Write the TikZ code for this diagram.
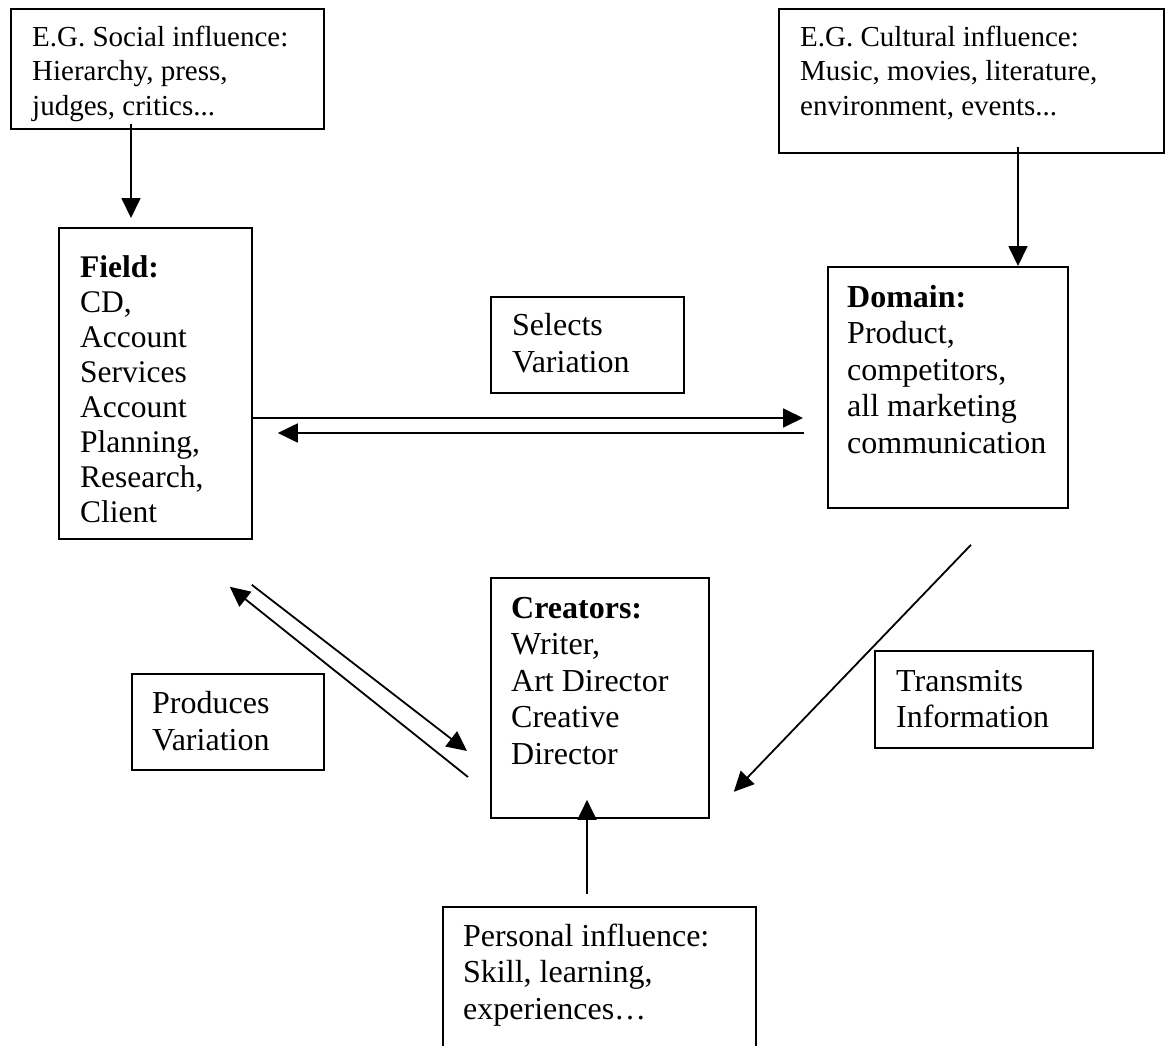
\documentclass[tikz,border=0pt]{standalone}
\usepackage{fontspec}
\setmainfont{Liberation Serif}
\usetikzlibrary{arrows.meta}
\tikzset{
  box/.style={draw, line width=1.8pt, rectangle, inner sep=0pt, anchor=north west},
  txt/.style={anchor=north west, inner sep=0pt, align=left},
  small/.style={font=\fontsize{29}{34.5}\selectfont},
  big/.style={font=\fontsize{32}{36.5}\selectfont},
  arr/.style={line width=1.8pt, -{Triangle[length=20pt,width=19pt]}}
}
\begin{document}
\begin{tikzpicture}[x=1pt,y=-1pt]
\useasboundingbox (0,0) rectangle (1165,1046);
% boxes
\node[box, minimum width=313pt, minimum height=120pt] (social) at (10,8) {};
\node[box, minimum width=385pt, minimum height=144pt] (cultural) at (778,8) {};
\node[box, minimum width=193pt, minimum height=311pt] (field) at (58,227) {};
\node[box, minimum width=240pt, minimum height=241pt] (domain) at (827,266) {};
\node[box, minimum width=193pt, minimum height=96pt] (selects) at (490,296) {};
\node[box, minimum width=218pt, minimum height=240pt] (creators) at (490,577) {};
\node[box, minimum width=192pt, minimum height=96pt] (produces) at (131,673) {};
\node[box, minimum width=218pt, minimum height=97pt] (transmits) at (874,650) {};
\node[box, minimum width=313pt, minimum height=154pt] (personal) at (442,906) {};
% texts
\node[txt, small] (socialtxt) at (32,21.9) {\strut E.G. Social influence:\\Hierarchy, press,\\judges, critics...};
\node[txt, small] (culturaltxt) at (800,21.9) {\strut E.G. Cultural influence:\\Music, movies, literature,\\environment, events...};
\node[txt, font=\fontsize{31.5}{35}\selectfont] (fieldtxt) at (80,252.5) {\strut\textbf{Field:}\\CD,\\Account\\Services\\Account\\Planning,\\Research,\\Client};
\node[txt, big] (domaintxt) at (847,281.5) {\strut\textbf{Domain:}\\Product,\\competitors,\\all marketing\\communication};
\node[txt, font=\fontsize{32}{37}\selectfont] (selectstxt) at (512,309) {\strut Selects\\Variation};
\node[txt, big] (creatorstxt) at (511,592.5) {\strut\textbf{Creators:}\\Writer,\\Art Director\\Creative\\Director};
\node[txt, font=\fontsize{32}{37}\selectfont] (producestxt) at (152,687) {\strut Produces\\Variation};
\node[txt, font=\fontsize{32}{36}\selectfont] (transmitstxt) at (896,666) {\strut Transmits\\Information};
\node[txt, big] (personaltxt) at (463,920.5) {\strut Personal influence:\\Skill, learning,\\experiences…};
% connectors
\draw[arr] ([xshift=121pt,yshift=6pt]social.south west) -- ([xshift=73pt,yshift=9pt]field.north west);
\draw[arr] ([xshift=240pt,yshift=7pt]cultural.south west) -- ([xshift=191pt]domain.north west);
\draw[arr] ([yshift=-191pt]field.north east) -- ([xshift=-24pt,yshift=-152pt]domain.north west);
\draw[arr] ([xshift=-23pt,yshift=-167pt]domain.north west) -- ([xshift=25pt,yshift=-206pt]field.north east);
\draw[arr] ([xshift=-1pt,yshift=-45pt]field.south east) -- ([xshift=-23pt,yshift=-174pt]creators.north west);
\draw[arr] ([xshift=-22pt,yshift=-200pt]creators.north west) -- ([xshift=-23pt,yshift=-47pt]field.south east);
\draw[arr] ([xshift=144pt,yshift=-36pt]domain.south west) -- ([xshift=24pt,yshift=27pt]creators.south east);
\draw[arr] ([xshift=145pt,yshift=12pt]personal.north west) -- ([xshift=97pt,yshift=19pt]creators.south west);
\end{tikzpicture}
\end{document}
